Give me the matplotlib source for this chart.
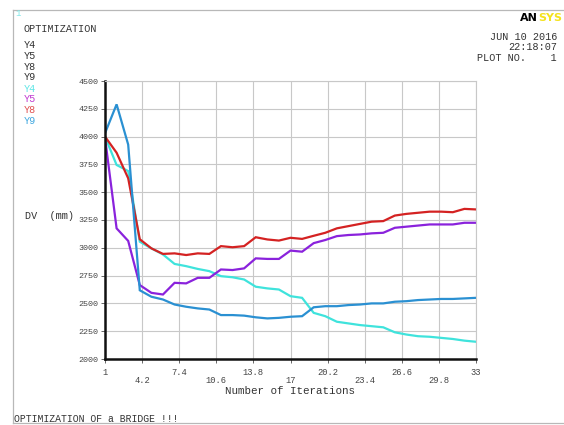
import matplotlib
matplotlib.use("Agg")
import matplotlib.pyplot as plt
from matplotlib.lines import Line2D
import numpy as np

# Design-variable history (mm) for each iteration
iterations = list(range(1, 34))
y4 = [4000, 3745, 3690, 3055, 2995, 2940, 2855, 2835, 2810, 2790, 2745,
      2735, 2715, 2650, 2635, 2625, 2565, 2550, 2415, 2385, 2335, 2320,
      2305, 2295, 2285, 2240, 2220, 2205, 2200, 2190, 2180, 2165, 2155]
y5 = [3990, 3175, 3062, 2665, 2595, 2580, 2685, 2680, 2730, 2730, 2805,
      2800, 2815, 2905, 2900, 2900, 2975, 2965, 3042, 3070, 3105, 3115,
      3120, 3130, 3135, 3180, 3190, 3200, 3210, 3210, 3210, 3225, 3225]
y8 = [4000, 3855, 3625, 3077, 2995, 2945, 2950, 2935, 2950, 2945, 3015,
      3005, 3015, 3095, 3075, 3065, 3090, 3080, 3108, 3135, 3175, 3195,
      3215, 3235, 3240, 3290, 3305, 3315, 3325, 3325, 3320, 3350, 3345]
y9 = [4030, 4290, 3928, 2618, 2560, 2535, 2490, 2470, 2455, 2445, 2395,
      2395, 2390, 2375, 2365, 2370, 2380, 2385, 2465, 2475, 2475, 2485,
      2490, 2500, 2500, 2515, 2520, 2530, 2535, 2540, 2540, 2545, 2550]

series_names = ["Y4", "Y5", "Y8", "Y9"]
line_colors = ["#3fe3dc", "#8a22dc", "#d42222", "#2a90d2"]
label_colors = ["#5fe6e6", "#c03ad0", "#e05050", "#40a8e0"]

x_ticks = [1, 4.2, 7.4, 10.6, 13.8, 17, 20.2, 23.4, 26.6, 29.8, 33]
x_tick_labels = ["1", "4.2", "7.4", "10.6", "13.8", "17", "20.2", "23.4",
                 "26.6", "29.8", "33"]
y_ticks = list(range(2000, 4501, 250))

FONT = "Liberation Mono"
W, H = 564, 425

fig = plt.figure(figsize=(W / 100, H / 100), dpi=100)
fig.patch.set_facecolor("white")

def px(x, y):
    return x / W, 1 - y / H

# outer frame
frame_kw = dict(color="#b8b8b8", lw=0.9, transform=fig.transFigure)
fig.add_artist(Line2D([13 / W, 13 / W], [1 - 10 / H, 1 - 423 / H], **frame_kw))
fig.add_artist(Line2D([13 / W, 1], [1 - 10 / H, 1 - 10 / H], **frame_kw))
fig.add_artist(Line2D([13 / W, 1], [1 - 423 / H, 1 - 423 / H], **frame_kw))

ax = fig.add_axes([105 / W, 1 - 359 / H, (476 - 105) / W, (359 - 81) / H])

for vals, c in zip([y4, y5, y8, y9], line_colors):
    ax.plot(iterations, vals, color=c, lw=1.6, solid_joinstyle="miter")

ax.set_xlim(1, 33)
ax.set_ylim(2000, 4500)
ax.set_xticks(x_ticks)
ax.set_yticks(y_ticks)
ax.set_yticklabels([str(v) for v in y_ticks], fontsize=6.0, family=FONT,
                   color="#444444")
ax.set_xticklabels([])
ax.grid(True, color="#c8c8c8", lw=0.8)
ax.set_axisbelow(True)
ax.tick_params(axis="both", length=3, width=0.7, color="#666666", pad=1.5)

for side in ("top", "right"):
    ax.spines[side].set_color("#c8c8c8")
    ax.spines[side].set_linewidth(0.8)
for side in ("left", "bottom"):
    ax.spines[side].set_color("#111111")
    ax.spines[side].set_linewidth(1.8)

# staggered x tick labels
for i, (t, lab) in enumerate(zip(x_ticks, x_tick_labels)):
    dy = -9.5 if i % 2 == 0 else -15.5
    ax.annotate(lab, xy=(t, 2000), xycoords="data", xytext=(0, dy),
                textcoords="offset points", ha="center", va="center",
                fontsize=6.3, family=FONT, color="#444444")

txt = dict(family=FONT, color="#333333")
fig.text(*px(290, 391), "Number of Iterations", ha="center", va="center",
         fontsize=7.8, **txt)
fig.text(*px(25, 216), "DV  (mm)", ha="left", va="center", fontsize=7.3, **txt)
fig.text(*px(18, 14), "1", ha="center", va="center", fontsize=6.5,
         family=FONT, color="#7fe8e8")
fig.text(*px(24, 29), "OPTIMIZATION", ha="left", va="center", fontsize=7.3, **txt)

for i, name in enumerate(series_names):
    fig.text(*px(24, 45 + 10.8 * i), name, ha="left", va="center",
             fontsize=7.3, **txt)
for i, (name, c) in enumerate(zip(series_names, label_colors)):
    fig.text(*px(24, 88.5 + 10.8 * i), name, ha="left", va="center",
             fontsize=7.3, family=FONT, color=c)

# logo and run stamp
fig.text(*px(538, 18), "AN", ha="right", va="center", fontsize=8,
         family="DejaVu Sans", weight="bold", color="black")
fig.text(*px(538, 18), "SYS", ha="left", va="center", fontsize=8,
         family="DejaVu Sans", weight="bold", color="#f4e21c")
fig.text(*px(557, 37), "JUN 10 2016", ha="right", va="center", fontsize=7.3, **txt)
fig.text(*px(557, 47), "22:18:07", ha="right", va="center", fontsize=7.3, **txt)
fig.text(*px(557, 58), "PLOT NO.    1", ha="right", va="center", fontsize=7.3, **txt)

fig.text(*px(14, 419), "OPTIMIZATION OF a BRIDGE !!!", ha="left", va="center",
         fontsize=7.0, **txt)

fig.savefig("out.png", dpi=100)
